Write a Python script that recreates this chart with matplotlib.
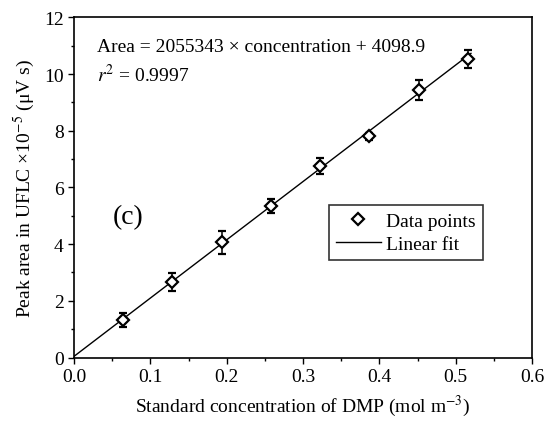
import matplotlib
matplotlib.use("Agg")
import matplotlib.pyplot as plt
from matplotlib.ticker import MultipleLocator
from matplotlib.lines import Line2D

# concentration of DMP (mol m^-3) and peak area (x10^-5 uV s)
conc = [0.0645, 0.129, 0.1935, 0.258, 0.3225, 0.387, 0.4515, 0.516]
area = [1.33, 2.67, 4.06, 5.35, 6.74, 7.80, 9.45, 10.53]
err = [0.25, 0.31, 0.41, 0.24, 0.28, 0.13, 0.35, 0.31]

# linear fit: Area = 2055343 * c + 4098.9  (plotted in units of 1e5)
slope = 2055343
intercept = 4098.9
fit_x = [0.0, 0.52]

plt.rcParams['font.family'] = ['Liberation Serif', 'DejaVu Serif']
plt.rcParams['mathtext.fontset'] = 'stix'
plt.rcParams['font.size'] = 14

fig = plt.figure(figsize=(5.45, 4.27), dpi=100)
ax = fig.add_axes([0.1358, 0.1604, 0.8404, 0.7967])

fit_y = [(slope * c + intercept) / 1e5 for c in fit_x]
fit_line, = ax.plot(fit_x, fit_y, color='black', lw=1.0, zorder=2)
ax.errorbar(conc, area, yerr=err, fmt='D', ms=6.3, mfc='white', mec='black',
            mew=1.6, ecolor='black', elinewidth=1.1, capsize=3, capthick=1.1,
            zorder=3)

ax.set_xlim(0, 0.6)
ax.set_ylim(0, 12)
ax.xaxis.set_major_locator(MultipleLocator(0.1))
ax.xaxis.set_minor_locator(MultipleLocator(0.05))
ax.yaxis.set_major_locator(MultipleLocator(2))
ax.yaxis.set_minor_locator(MultipleLocator(1))
ax.xaxis.set_major_formatter(matplotlib.ticker.FormatStrFormatter('%.1f'))
ax.tick_params(which='major', direction='out', length=4, width=1.0, labelsize=14)
ax.tick_params(which='minor', direction='out', length=2.4, width=1.0)
ax.tick_params(top=False, right=False)
for s in ax.spines.values():
    s.set_linewidth(1.2)

ax.set_xlabel('Standard concentration of DMP (mol m$^{-3}$)', fontsize=14, labelpad=6)
ax.set_ylabel('Peak area in UFLC \u00d710$^{-5}$ (\u03bcV s)', fontsize=14, labelpad=5)

ax.text(0.05, 0.915, 'Area = 2055343 \u00d7 concentration + 4098.9',
        transform=ax.transAxes, fontsize=14, va='center', ha='left')
ax.text(0.05, 0.834, '$r^2$ = 0.9997', transform=ax.transAxes,
        fontsize=14, va='center', ha='left')
ax.text(0.118, 0.413, '(c)', transform=ax.transAxes, fontsize=20,
        va='center', ha='center')

# legend: plain diamond (no error bar) and the fit line
pt_handle = Line2D([], [], ls='none', marker='D', ms=6.3, mfc='white',
                   mec='black', mew=1.6)
leg = ax.legend([pt_handle, fit_line], ['Data points', 'Linear fit'],
                loc='upper left', bbox_to_anchor=(0.557, 0.447), fontsize=14,
                frameon=True, fancybox=False, edgecolor='black', numpoints=1,
                handlelength=2.3, borderpad=0.35, labelspacing=0.3,
                handletextpad=0.3, borderaxespad=0)
leg.get_frame().set_linewidth(1.2)

fig.savefig('out.png', dpi=100)
